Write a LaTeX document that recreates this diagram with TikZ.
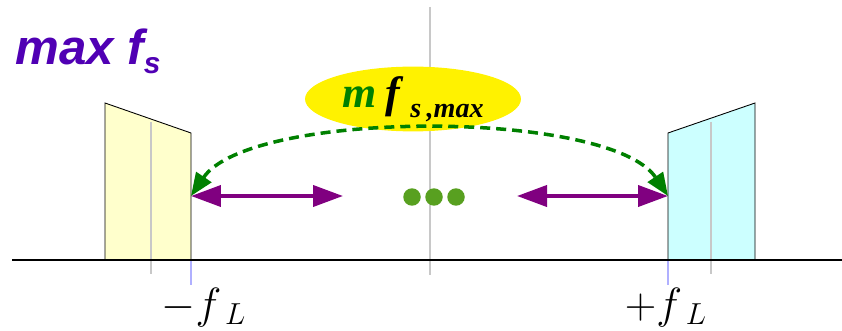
\documentclass[tikz,border=0pt]{standalone}
\usepackage{fontspec}
\usepackage{xcolor}
\usepackage{tikz}
\usetikzlibrary{
  arrows.meta,
  positioning,
  shapes.geometric
}
\newfontfamily\headfont{Liberation Sans}
\newfontfamily\timesfont{Liberation Serif}
\definecolor{fsviolet} {HTML}{5000B4}
\definecolor{fspurple} {HTML}{800080}
\definecolor{fsgreen}  {HTML}{008000}
\definecolor{fsolive}  {HTML}{58A020}
\definecolor{fsyellow} {HTML}{FFFFCC}
\definecolor{fscyan}   {HTML}{CCFFFF}
\definecolor{fsgray}   {HTML}{C8C8C8}
\definecolor{fsblue}   {HTML}{B0B0FF}

\begin{document}
\begin{tikzpicture}[
  x=0.02cm, y=-0.02cm,
  band/.style={draw=black, line width=0.5pt},
  guide/.style={draw=fsgray, line width=0.6pt},
  tick/.style={draw=fsblue, line width=0.6pt},
  movearr/.style={{Triangle[length=0.6cm,width=0.42cm]}-{Triangle[length=0.6cm,width=0.42cm]},
                draw=fspurple, fill=fspurple, line width=2.2pt},
  hop/.style={{Triangle[length=0.46cm,width=0.36cm]}-{Triangle[length=0.46cm,width=0.36cm]},
              draw=fsgreen, line width=2pt, dash pattern=on 0.2cm off 0.12cm},
  dot/.style={circle, fill=fsolive, minimum size=0.35cm, inner sep=0pt},
  freq/.style={anchor=base, font=\fontsize{24}{28}\selectfont},
]
\useasboundingbox (0,0) rectangle (842,331);

% centre line
\draw[guide] (430,7) -- (430,275);

% bands
\fill[fsyellow] (105,260) -- (105,103) -- (191,133) -- (191,260) -- cycle;
\draw[guide] (151,122) -- (151,274);
\draw[band] (105,260) -- (105,103) -- (191,133) -- (191,260);
\fill[fscyan] (668,260) -- (668,133) -- (755,103) -- (755,260) -- cycle;
\draw[guide] (711,122) -- (711,274);
\draw[band] (668,260) -- (668,133) -- (755,103) -- (755,260);

% axis
\draw[tick] (191,260) -- (191,285);
\draw[tick] (668,260) -- (668,285);
\draw[line width=0.8pt] (12,260) -- (842,260);

\node[freq](nl) at (204,318) {$-f_{\;L}$};
\node[freq](pl) at (666,318) {$+f_{\;L}$};

% title
\node[anchor=base west, inner sep=0pt, text=fsviolet,
      font=\headfont\bfseries\itshape\fontsize{28}{30}\selectfont](title) at (15,65)
  {max f\raisebox{-5pt}{\fontsize{17}{17}\selectfont s}};

% label
\node[ellipse, fill=yellow, minimum width=4.32cm, minimum height=1.04cm, inner sep=0pt,
      font=\timesfont\bfseries\itshape\fontsize{25}{26}\selectfont](mfs) at (413,99)
  {\textcolor{fsgreen}{m}\hspace{5pt}f\hspace{6pt}\raisebox{-6pt}{\fontsize{16}{16}\selectfont s\hspace{3pt},max}};

% ends of the shifts
\coordinate (lft) at (191,196);
\coordinate (rgt) at (668,196);
\coordinate (la) at (343,196);
\coordinate (ra) at (517,196);

\draw[movearr] (lft) -- (la);
\draw[movearr] (ra) -- (rgt);
\draw[hop] (lft) .. controls (250,109) and (610,109) .. (rgt);

\node[dot](d1) at (412,197) {};
\node[dot](d2) at (434,197) {};
\node[dot](d3) at (456,197) {};
\end{tikzpicture}
\end{document}
